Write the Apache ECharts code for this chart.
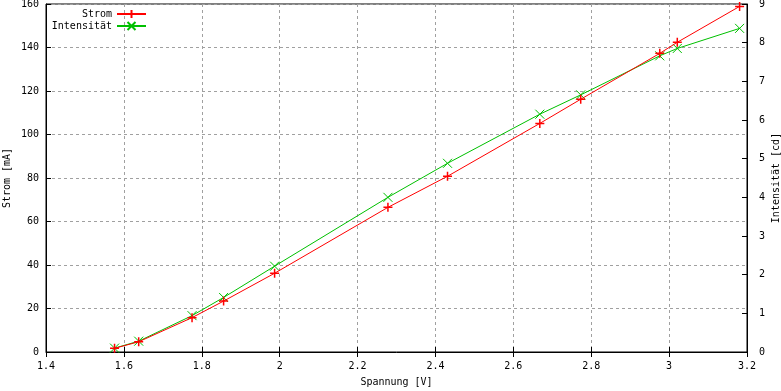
<!DOCTYPE html>
<html>
<head>
<meta charset="utf-8">
<script src="https://cdn.jsdelivr.net/npm/echarts@6/dist/echarts.min.js"></script>
<style>
  html, body { margin: 0; padding: 0; background: #fff; }
  #chart { width: 781px; height: 391px; }
</style>
</head>
<body>
<div id="chart"></div>
<script>
const spannung = [1.576, 1.638, 1.775, 1.856, 1.987, 2.278, 2.431, 2.668, 2.773, 2.976, 3.021, 3.181];
const strom = [1.7, 4.7, 15.8, 23.4, 36.2, 66.5, 80.8, 105.1, 116.2, 137.3, 142.4, 158.9];
const intensitaet = [0.10, 0.28, 0.94, 1.41, 2.22, 4.00, 4.88, 6.15, 6.65, 7.66, 7.85, 8.37];

const font = 'DejaVu Sans Mono';
const plusIcon = 'path://M0,5L10,5M5,0L5,10';
const crossIcon = 'path://M0,0L10,10M10,0L0,10';

const chart = echarts.init(document.getElementById('chart'), null, { renderer: 'canvas' });

const gridLine = { show: true, lineStyle: { color: '#a0a0a0', type: [3, 3], width: 1 } };
const txt = { color: '#000', fontFamily: font, fontSize: 10 };

const option = {
  animation: false,
  backgroundColor: '#fff',
  textStyle: { fontFamily: font },
  grid: {
    left: 46, right: 34, top: 4, bottom: 39,
    outerBoundsMode: 'none', containLabel: false,
    show: true, borderColor: '#000', borderWidth: 1, backgroundColor: 'transparent'
  },
  legend: [
    {
      data: ['Strom'], right: 634, top: 9, padding: 0, align: 'right',
      itemWidth: 29, itemHeight: 10, itemGap: 0,
      textStyle: txt
    },
    {
      data: ['Intensität'], right: 634, top: 21, padding: 0, align: 'right',
      itemWidth: 29, itemHeight: 10, itemGap: 0,
      textStyle: txt
    }
  ],
  xAxis: [
    {
      type: 'value', min: 1.4, max: 3.2, interval: 0.2,
      name: 'Spannung [V]', nameLocation: 'middle', nameGap: 25, nameMoveOverlap: false,
      nameTextStyle: txt,
      axisLine: { show: true, lineStyle: { color: '#000' } },
      axisTick: { show: true, inside: true, length: 5, lineStyle: { color: '#000' } },
      axisLabel: Object.assign({ margin: 9 }, txt),
      splitLine: gridLine
    },
    {
      type: 'value', min: 1.4, max: 3.2, interval: 0.2, position: 'top',
      axisLine: { show: false },
      axisTick: { show: true, inside: true, length: 5, lineStyle: { color: '#000' } },
      axisLabel: { show: false },
      splitLine: { show: false }
    }
  ],
  yAxis: [
    {
      type: 'value', min: 0, max: 160, interval: 20,
      name: 'Strom [mA]', nameLocation: 'middle', nameGap: 34, nameRotate: 90, nameMoveOverlap: false,
      nameTextStyle: txt,
      axisLine: { show: true, lineStyle: { color: '#000' } },
      axisTick: { show: true, inside: true, length: 5, lineStyle: { color: '#000' } },
      axisLabel: Object.assign({ margin: 7 }, txt),
      splitLine: gridLine
    },
    {
      type: 'value', min: 0, max: 9, interval: 1, position: 'right',
      name: 'Intensität [cd]', nameLocation: 'middle', nameGap: 24, nameRotate: 90, nameMoveOverlap: false,
      nameTextStyle: txt,
      axisLine: { show: true, lineStyle: { color: '#000' } },
      axisTick: { show: true, inside: true, length: 5, lineStyle: { color: '#000' } },
      axisLabel: Object.assign({ margin: 12 }, txt),
      splitLine: { show: false }
    }
  ],
  series: [
    {
      name: 'Strom', type: 'line', xAxisIndex: 0, yAxisIndex: 0,
      data: spannung.map((v, i) => [v, strom[i]]),
      symbol: plusIcon, symbolSize: 9, showAllSymbol: true,
      lineStyle: { color: '#ff0000', width: 1 },
      itemStyle: { color: '#ff0000', borderColor: '#ff0000', borderWidth: 1.5 },
      z: 3
    },
    {
      name: 'Intensität', type: 'line', xAxisIndex: 0, yAxisIndex: 1,
      data: spannung.map((v, i) => [v, intensitaet[i]]),
      symbol: crossIcon, symbolSize: 9, showAllSymbol: true,
      lineStyle: { color: '#00c000', width: 1 },
      itemStyle: { color: '#00c000', borderColor: '#00c000', borderWidth: 1 },
      z: 2
    }
  ]
};

chart.setOption(option);
window.addEventListener('resize', () => chart.resize());
</script>
</body>
</html>
